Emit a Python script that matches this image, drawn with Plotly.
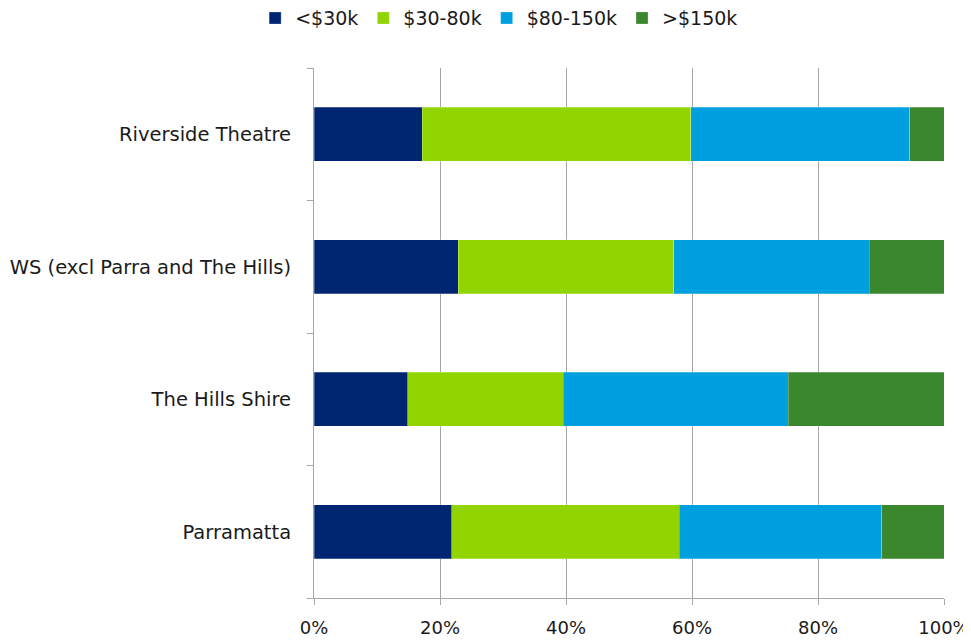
import plotly.graph_objects as go

categories = ["Parramatta", "The Hills Shire", "WS (excl Parra and The Hills)", "Riverside Theatre"]
series_names = ["<$30k", "$30-80k", "$80-150k", ">$150k"]
under_30k = [21.9, 14.9, 22.9, 17.2]
k30_80 = [36.1, 24.7, 34.2, 42.6]
k80_150 = [32.1, 35.7, 31.0, 34.8]
over_150k = [9.9, 24.7, 11.9, 5.4]
colors = ["#002672", "#92D400", "#009FDF", "#3B872E"]
tick_vals = [0, 20, 40, 60, 80, 100]
tick_text = ["0%", "20%", "40%", "60%", "80%", "100%"]

fig = go.Figure()
for name, vals, col in zip(series_names, [under_30k, k30_80, k80_150, over_150k], colors):
    fig.add_trace(go.Bar(
        y=categories, x=vals, name=name, orientation="h",
        marker=dict(color=col, line=dict(color="rgba(255,255,255,0.5)", width=0.5)),
        width=0.41,
    ))

fig.update_layout(
    barmode="stack",
    width=963, height=634,
    margin=dict(l=306, r=27, t=60, b=44),
    paper_bgcolor="white", plot_bgcolor="white",
    font=dict(family="DejaVu Sans, sans-serif", size=18, color="#1a1a1a"),
    legend=dict(orientation="h", x=0.51, xanchor="center", y=0.984, yanchor="middle",
                xref="container", yref="container", traceorder="normal",
                font=dict(size=19), itemwidth=30),
    showlegend=True,
)
fig.update_xaxes(range=[0, 100], tickvals=tick_vals, ticktext=tick_text,
                 showgrid=True, gridcolor="#A6A6A6", gridwidth=1,
                 showline=True, linecolor="#A6A6A6", linewidth=1,
                 ticks="outside", ticklen=6, tickcolor="#A6A6A6",
                 zeroline=False, ticklabelstandoff=7, automargin=False)
fig.update_yaxes(range=[-0.5, 3.5], showline=True, linecolor="#A6A6A6", linewidth=1,
                 ticks="outside", ticklen=6, tickcolor="#A6A6A6", tickson="boundaries",
                 showgrid=False, ticklabelstandoff=18, automargin=False,
                 tickfont=dict(size=19.5))

fig.write_html("out.html")
